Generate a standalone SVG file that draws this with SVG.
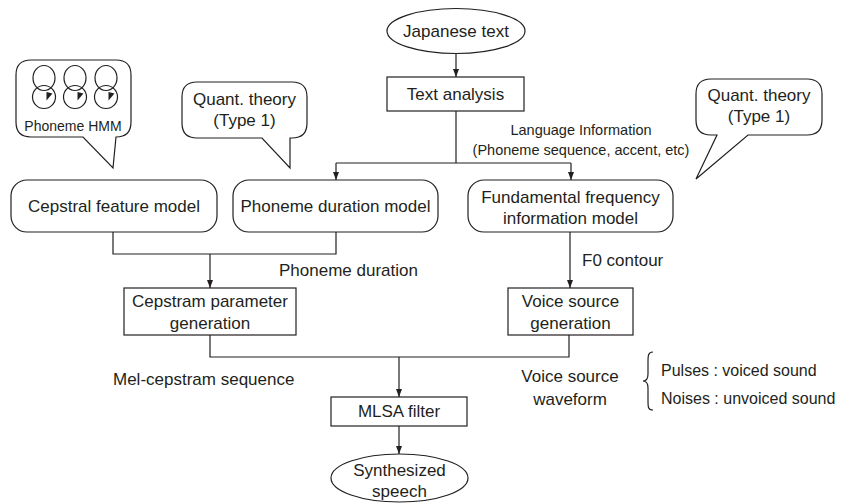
<svg xmlns="http://www.w3.org/2000/svg" width="845" height="503" viewBox="0 0 845 503">
<defs>
<marker id="ah" markerWidth="8" markerHeight="8" viewBox="0 0 8 8" refX="8" refY="4" orient="auto" markerUnits="userSpaceOnUse">
<path d="M0,1 L8,4 L0,7 Z" fill="#231f20"/>
</marker>
<style>
.s{fill:#fff;stroke:#231f20;stroke-width:1.2}
.c{fill:none;stroke:#231f20;stroke-width:1.2}
.t{font-family:"Liberation Sans",Arial,sans-serif;font-size:17px;fill:#231f20}
.m{text-anchor:middle}
.sm{font-size:14.5px}
.h{font-size:14px}
.r{font-size:16px}
</style>
</defs>
<rect width="845" height="503" fill="#fff"/>

<g id="japanese-text">
<ellipse class="s" cx="456" cy="31" rx="69" ry="22.5"/>
<text class="t m" x="456" y="37">Japanese text</text>
</g>

<g id="text-analysis">
<rect class="s" x="387" y="77" width="137" height="34"/>
<text class="t m" x="455.5" y="100">Text analysis</text>
</g>

<g id="bubble-hmm">
<path class="s" d="M31,60 H116 Q131,60 131,75 V122 Q131,137 116,137 L113,168 L83,137 H31 Q16,137 16,122 V75 Q16,60 31,60 Z"/>
<ellipse class="c" cx="44" cy="78" rx="11" ry="12.5"/>
<circle class="c" cx="44" cy="97" r="11.5"/>
<path d="M46.5,100.5 L46.5,92 L52.5,93.5 Z" fill="#231f20"/>
<ellipse class="c" cx="75" cy="78" rx="11" ry="12.5"/>
<circle class="c" cx="75" cy="97" r="11.5"/>
<path d="M77.5,100.5 L77.5,92 L83.5,93.5 Z" fill="#231f20"/>
<ellipse class="c" cx="106" cy="78" rx="11" ry="12.5"/>
<circle class="c" cx="106" cy="97" r="11.5"/>
<path d="M108.5,100.5 L108.5,92 L114.5,93.5 Z" fill="#231f20"/>
<text class="t m h" x="73" y="131">Phoneme HMM</text>
</g>

<g id="bubble-quant-left">
<path class="s" d="M197,82 H292 Q307,82 307,97 V123 Q307,138 292,138 H290 V168 L262,138 H197 Q182,138 182,123 V97 Q182,82 197,82 Z"/>
<text class="t m" x="244.5" y="105">Quant. theory</text>
<text class="t m" x="244.5" y="126">(Type 1)</text>
</g>

<g id="bubble-quant-right">
<path class="s" d="M711,79 H807 Q822,79 822,94 V120 Q822,135 807,135 H748 L696,179 L717,135 H711 Q696,135 696,120 V94 Q696,79 711,79 Z"/>
<text class="t m" x="759" y="101">Quant. theory</text>
<text class="t m" x="759" y="122">(Type 1)</text>
</g>

<g id="cepstral-feature-model">
<rect class="s" x="11" y="180" width="206" height="52" rx="16"/>
<text class="t m" x="114" y="212">Cepstral feature model</text>
</g>

<g id="phoneme-duration-model">
<rect class="s" x="233" y="180" width="205" height="52" rx="16"/>
<text class="t m" x="335.5" y="212">Phoneme duration model</text>
</g>

<g id="f0-model">
<rect class="s" x="468" y="180" width="205" height="52" rx="16"/>
<text class="t m" x="570.5" y="203">Fundamental frequency</text>
<text class="t m" x="570.5" y="224">information model</text>
</g>

<g id="cepstram-generation">
<rect class="s" x="124" y="288" width="172" height="47"/>
<text class="t m" x="210" y="307">Cepstram parameter</text>
<text class="t m" x="210" y="329">generation</text>
</g>

<g id="voice-source-generation">
<rect class="s" x="508" y="288" width="125" height="47"/>
<text class="t m" x="570.5" y="307">Voice source</text>
<text class="t m" x="570.5" y="329">generation</text>
</g>

<g id="mlsa-filter">
<rect class="s" x="331" y="397" width="136" height="29"/>
<text class="t m" x="399" y="417">MLSA filter</text>
</g>

<g id="synthesized-speech">
<ellipse class="s" cx="399.5" cy="478" rx="68.5" ry="24"/>
<text class="t m" x="399.5" y="476">Synthesized</text>
<text class="t m" x="399.5" y="497">speech</text>
</g>

<g id="connectors">
<path class="c" d="M456,53.5 V77" marker-end="url(#ah)"/>
<path class="c" d="M456,111 V163"/>
<path class="c" d="M336,163 H571"/>
<path class="c" d="M336,163 V180" marker-end="url(#ah)"/>
<path class="c" d="M571,163 V180" marker-end="url(#ah)"/>
<path class="c" d="M113,232 V254 H336 V232"/>
<path class="c" d="M210,254 V288" marker-end="url(#ah)"/>
<path class="c" d="M570,232 V288" marker-end="url(#ah)"/>
<path class="c" d="M210,335 V357 H569 V335"/>
<path class="c" d="M399,357 V397" marker-end="url(#ah)"/>
<path class="c" d="M399,426 V454" marker-end="url(#ah)"/>
<path class="c" d="M653,352 C648,352 648,356 648,362 L648,374 C648,379 646,381 643,381 C646,381 648,383 648,388 L648,401 C648,407 648,410 653,410"/>
</g>

<g id="labels">
<text class="t m sm" x="581" y="135">Language Information</text>
<text class="t m sm" x="581" y="155">(Phoneme sequence, accent, etc)</text>
<text class="t" x="279" y="276">Phoneme duration</text>
<text class="t" x="582" y="266">F0 contour</text>
<text class="t" x="113" y="385">Mel-cepstram sequence</text>
<text class="t m" x="570" y="382">Voice source</text>
<text class="t m" x="570" y="405">waveform</text>
<text class="t r" x="661" y="376">Pulses : voiced sound</text>
<text class="t r" x="661" y="404">Noises : unvoiced sound</text>
</g>
</svg>
